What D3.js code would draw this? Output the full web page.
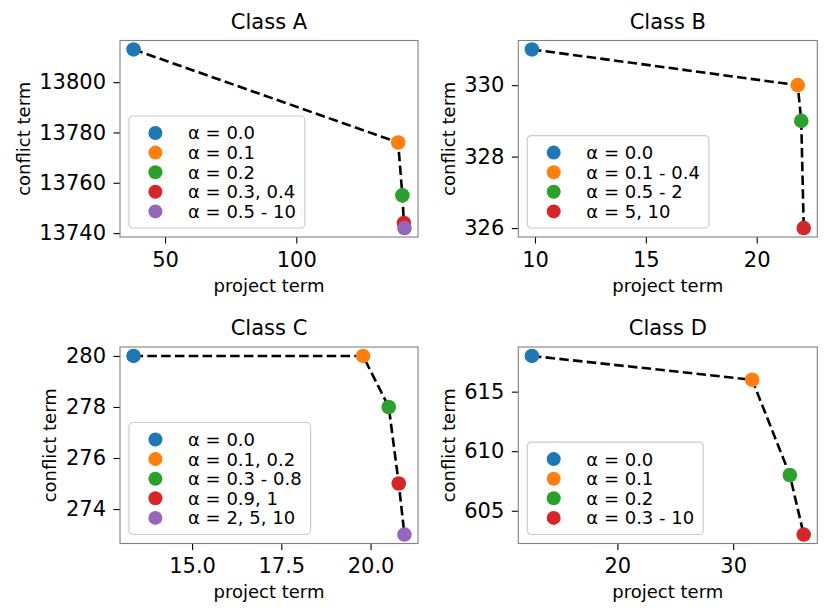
<!DOCTYPE html>
<html>
<head>
<meta charset="utf-8">
<script src="https://cdn.jsdelivr.net/npm/d3@7"></script>
<style>
  body { margin: 0; background: #fff; }
  svg { display: block; font-family: "DejaVu Sans", sans-serif; }
</style>
</head>
<body>
<svg id="chart" width="830" height="616"></svg>
<script>
// ---- data ----
const classNames = ["Class A", "Class B", "Class C", "Class D"];

const projectA = [38.0, 138.8, 140.4, 141.0, 141.2];
const conflictA = [13813, 13776, 13755, 13744, 13742];
const labelsA = ["α = 0.0", "α = 0.1", "α = 0.2", "α = 0.3, 0.4", "α = 0.5 - 10"];
const xTicksA = [50, 100];
const yTicksA = [13740, 13760, 13780, 13800];

const projectB = [9.86, 21.85, 22.01, 22.12];
const conflictB = [331, 330, 329, 326];
const labelsB = ["α = 0.0", "α = 0.1 - 0.4", "α = 0.5 - 2", "α = 5, 10"];
const xTicksB = [10, 15, 20];
const yTicksB = [326, 328, 330];

const projectC = [13.36, 19.79, 20.51, 20.79, 20.95];
const conflictC = [280, 280, 278, 275, 273];
const labelsC = ["α = 0.0", "α = 0.1, 0.2", "α = 0.3 - 0.8", "α = 0.9, 1", "α = 2, 5, 10"];
const xTicksC = [15.0, 17.5, 20.0];
const yTicksC = [274, 276, 278, 280];

const projectD = [12.62, 31.64, 34.89, 36.09];
const conflictD = [618, 616, 608, 603];
const labelsD = ["α = 0.0", "α = 0.1", "α = 0.2", "α = 0.3 - 10"];
const xTicksD = [20, 30];
const yTicksD = [605, 610, 615];

const colors = ["#1f77b4", "#ff7f0e", "#2ca02c", "#d62728", "#9467bd"];

const xLabel = "project term";
const yLabel = "conflict term";

// ---- panels ----
const panels = [
  { title: classNames[0], x: projectA, y: conflictA, labels: labelsA, xt: xTicksA, yt: yTicksA, xfmt: d3.format("d"),
    left: 120, top: 40.5, w: 298, h: 196.5 },
  { title: classNames[1], x: projectB, y: conflictB, labels: labelsB, xt: xTicksB, yt: yTicksB, xfmt: d3.format("d"),
    left: 518.3, top: 40.5, w: 299, h: 196.5 },
  { title: classNames[2], x: projectC, y: conflictC, labels: labelsC, xt: xTicksC, yt: yTicksC, xfmt: d3.format(".1f"),
    left: 120, top: 347, w: 298, h: 196.5 },
  { title: classNames[3], x: projectD, y: conflictD, labels: labelsD, xt: xTicksD, yt: yTicksD, xfmt: d3.format("d"),
    left: 518.3, top: 347, w: 299, h: 196.5 }
];

const svg = d3.select("#chart");
const TICK_FS = 21, LABEL_FS = 18;

function padded(vals) {
  const [a, b] = d3.extent(vals);
  const m = (b - a) * 0.05;
  return [a - m, b + m];
}

panels.forEach(p => {
  const g = svg.append("g").attr("transform", `translate(${p.left},${p.top})`);
  const xs = d3.scaleLinear().domain(padded(p.x)).range([0, p.w]);
  const ys = d3.scaleLinear().domain(padded(p.y)).range([p.h, 0]);
  const pts = p.x.map((v, i) => ({ x: v, y: p.y[i], c: colors[i], label: p.labels[i] }));

  // axes
  const xAxis = g.append("g").attr("transform", `translate(0,${p.h})`)
    .call(d3.axisBottom(xs).tickValues(p.xt).tickFormat(p.xfmt).tickSize(6.5).tickPadding(8.3));
  const yAxis = g.append("g")
    .call(d3.axisLeft(ys).tickValues(p.yt).tickFormat(d3.format("d")).tickSize(6.5).tickPadding(7.5));
  [xAxis, yAxis].forEach(a => {
    a.select(".domain").remove();
    a.selectAll(".tick line").attr("stroke", "#000").attr("stroke-width", 1.1);
    a.selectAll(".tick text").attr("font-size", TICK_FS).attr("fill", "#000")
      .attr("font-family", "DejaVu Sans");
  });

  // frame
  g.append("rect").attr("x", 0).attr("y", 0).attr("width", p.w).attr("height", p.h)
    .attr("fill", "none").attr("stroke", "#808080").attr("stroke-width", 1.1);

  // dashed line
  g.append("path").datum(pts)
    .attr("d", d3.line().x(d => xs(d.x)).y(d => ys(d.y)))
    .attr("fill", "none").attr("stroke", "#000").attr("stroke-width", 2.6)
    .attr("stroke-dasharray", "9.5,4.3");

  // points
  g.selectAll("circle.pt").data(pts).join("circle").attr("class", "pt")
    .attr("cx", d => xs(d.x)).attr("cy", d => ys(d.y)).attr("r", 7.3)
    .attr("fill", d => d.c);

  // title
  g.append("text").attr("x", p.w / 2).attr("y", -12).attr("text-anchor", "middle")
    .attr("font-size", TICK_FS).text(p.title);

  // x label
  g.append("text").attr("x", p.w / 2).attr("y", p.h + 54.5).attr("text-anchor", "middle")
    .attr("font-size", LABEL_FS).text(xLabel);

  // y label
  const tb = yAxis.node().getBBox();
  const ylx = tb.x - 9.5;
  g.append("text").attr("transform", `translate(${ylx},${p.h / 2}) rotate(-90)`)
    .attr("text-anchor", "middle").attr("font-size", LABEL_FS).text(yLabel);

  // legend
  const n = pts.length;
  const rowH = 19.6;
  const boxH = 17 + (n - 1) * rowH + 16.6;
  const lg = g.append("g").attr("transform", `translate(9,${p.h - 9 - boxH})`);
  const frame = lg.append("rect").attr("rx", 4).attr("ry", 4)
    .attr("fill", "#fff").attr("fill-opacity", 0.8)
    .attr("stroke", "#cccccc").attr("stroke-width", 1.2);
  const rows = lg.selectAll("g.row").data(pts).join("g").attr("class", "row")
    .attr("transform", (d, i) => `translate(0,${17 + i * rowH})`);
  rows.append("circle").attr("cx", 26.4).attr("cy", 0).attr("r", 7).attr("fill", d => d.c);
  const texts = rows.append("text").attr("x", 59).attr("dy", "0.36em")
    .attr("font-size", LABEL_FS).text(d => d.label);
  let maxW = 0;
  texts.each(function () { maxW = Math.max(maxW, this.getComputedTextLength()); });
  frame.attr("x", 0).attr("y", 0).attr("width", 59 + maxW + 9).attr("height", boxH);
});
</script>
</body>
</html>
